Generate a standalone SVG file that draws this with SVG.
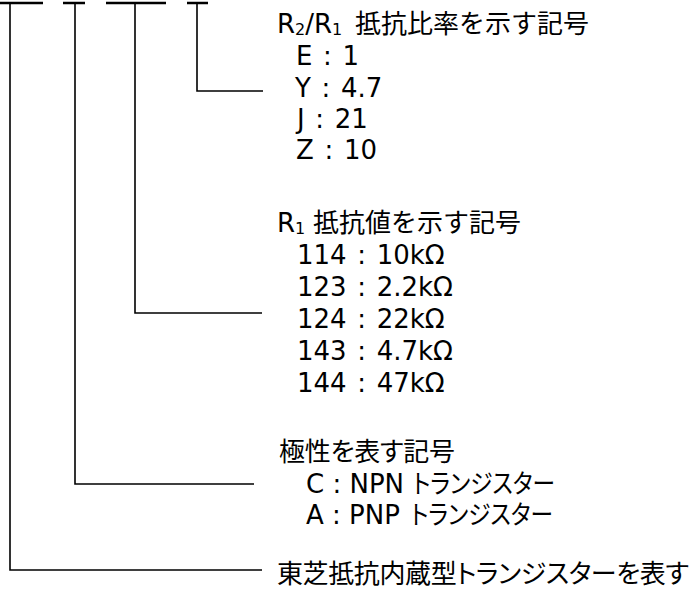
<svg xmlns="http://www.w3.org/2000/svg" width="697" height="589" viewBox="0 0 697 589">
<style>
.t{font-family:"DejaVu Sans","Noto Sans CJK JP",sans-serif;font-size:26px;fill:#000}
.v{word-spacing:2.4px}
.p{font-feature-settings:"palt"}
.sub{font-size:16px}
.bar{fill:none;stroke:#000;stroke-width:2.5}
.ln{fill:none;stroke:#000;stroke-width:1.6}
</style>
<rect width="697" height="589" fill="#fff"/>
<g id="connectors">
<line class="bar" x1="0" y1="3" x2="43" y2="3"/>
<line class="bar" x1="63" y1="3" x2="85" y2="3"/>
<line class="bar" x1="106" y1="3" x2="166" y2="3"/>
<line class="bar" x1="187" y1="3" x2="208" y2="3"/>
<polyline class="ln" points="197,3 197,91 263,91"/>
<polyline class="ln" points="135,3 135,313 262,313"/>
<polyline class="ln" points="75,3 75,484 254,484"/>
<polyline class="ln" points="10,3 10,570 262,570"/>
</g>
<g id="ratio">
<text class="t" x="277" y="33">R<tspan class="sub" dy="2">2</tspan><tspan dy="-2">/R</tspan><tspan class="sub" dy="2">1</tspan><tspan x="355" dy="-2">抵抗比率を示す記号</tspan></text>
<text class="t v" x="296" y="65">E : 1</text>
<text class="t v" x="295" y="97">Y : 4.7</text>
<text class="t v" x="297" y="128">J : 21</text>
<text class="t v" x="296" y="159">Z : 10</text>
</g>
<g id="resistance">
<text class="t" x="277" y="232">R<tspan class="sub" dy="2">1</tspan><tspan x="313" dy="-2">抵抗値を示す記号</tspan></text>
<text class="t v" x="297" y="264">114 : 10kΩ</text>
<text class="t v" x="297" y="296">123 : 2.2kΩ</text>
<text class="t v" x="297" y="328">124 : 22kΩ</text>
<text class="t v" x="297" y="360">143 : 4.7kΩ</text>
<text class="t v" x="297" y="392">144 : 47kΩ</text>
</g>
<g id="polarity">
<text class="t p" x="279" y="461" textLength="176">極性を表す記号</text>
<text class="t" x="306" y="493">C : NPN</text>
<text class="t p" x="413" y="493" textLength="142" lengthAdjust="spacingAndGlyphs">トランジスター</text>
<text class="t" x="306" y="524">A : PNP</text>
<text class="t p" x="411" y="524" textLength="142" lengthAdjust="spacingAndGlyphs">トランジスター</text>
</g>
<g id="type">
<text class="t p" x="277" y="583" textLength="412">東芝抵抗内蔵型トランジスターを表す</text>
</g>
</svg>
